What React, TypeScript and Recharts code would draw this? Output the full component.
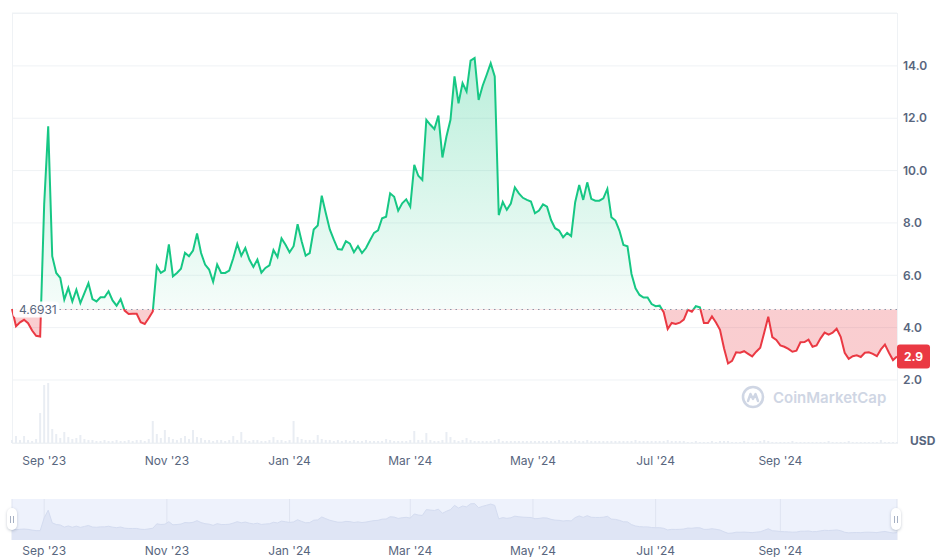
import { ComposedChart, AreaChart, Area, Bar, XAxis, YAxis, CartesianGrid, ReferenceLine } from 'recharts';

// day 0 of the series, one point every 2 days
const START = Date.UTC(2023, 7, 16);
const STEP_DAYS = 2;
const BASE_PRICE = 4.6931;

const prices = [
  4.71, 4.05, 4.2, 4.3, 4.17, 3.89, 3.69, 3.66, 8.71, 11.69, 6.73, 6.09, 5.9, 5.07, 5.52, 5.0, 5.45, 4.94, 5.32, 5.7,
  5.09, 5.0, 5.16, 5.16, 5.39, 5.04, 4.84, 5.09, 4.65, 4.52, 4.53, 4.53, 4.21, 4.14, 4.37, 4.62, 6.35, 6.09, 6.19, 7.18,
  5.96, 6.09, 6.25, 6.86, 6.73, 6.94, 7.6, 6.85, 6.41, 6.22, 5.75, 6.41, 6.09, 6.09, 6.18, 6.65, 7.2, 6.75, 7.04, 6.6,
  6.32, 6.6, 6.1, 6.28, 6.38, 6.96, 6.7, 7.41, 7.17, 6.88, 7.11, 7.95, 7.3, 6.75, 6.85, 7.75, 7.9, 9.04, 8.38, 7.75,
  7.36, 7.0, 6.98, 7.3, 7.21, 6.88, 7.11, 6.85, 7.04, 7.34, 7.62, 7.72, 8.18, 8.24, 9.13, 9.0, 8.47, 8.75, 8.9, 8.62,
  10.22, 9.8, 9.64, 11.94, 11.75, 11.59, 12.1, 10.5, 11.3, 11.94, 13.6, 12.57, 13.34, 13.02, 14.2, 14.3, 12.7, 13.24, 13.66, 14.1,
  13.6, 8.3, 8.8, 8.5, 8.74, 9.36, 9.13, 8.96, 8.88, 8.82, 8.37, 8.47, 8.71, 8.62, 8.11, 7.8, 7.71, 7.45, 7.62, 7.5,
  8.79, 9.45, 8.88, 9.55, 8.92, 8.85, 8.85, 8.94, 9.3, 8.22, 8.09, 7.71, 7.16, 7.11, 6.05, 5.5, 5.25, 5.15, 5.15, 4.9,
  4.82, 4.84, 4.59, 3.95, 4.18, 4.14, 4.19, 4.31, 4.68, 4.61, 4.82, 4.78, 4.18, 4.18, 4.43, 4.2, 3.92, 3.21, 2.63, 2.73,
  3.06, 3.04, 3.1, 3.0, 2.9, 3.08, 3.23, 3.81, 4.42, 3.64, 3.53, 3.32, 3.27, 3.19, 3.08, 3.12, 3.44, 3.45, 3.54, 3.27,
  3.32, 3.59, 3.81, 3.73, 3.81, 3.96, 3.65, 3.04, 2.81, 2.91, 2.94, 2.88, 3.04, 3.06, 3.0, 2.91, 3.17, 3.35, 3.04, 2.76,
  2.9,
];

// 24h volume, millions USD
const volumes = [
  3, 7, 3, 7, 3, 2, 4, 30, 58, 60, 14, 9, 5, 11, 6, 4, 5, 8, 4, 3,
  3, 2, 2, 3, 2, 2, 3, 2, 2, 3, 2, 3, 3, 2, 4, 22, 9, 5, 13, 6,
  4, 3, 5, 7, 4, 13, 6, 5, 3, 3, 2, 3, 3, 2, 3, 7, 3, 11, 3, 2,
  3, 3, 2, 2, 3, 6, 3, 3, 2, 3, 22, 6, 4, 3, 3, 3, 8, 4, 3, 3,
  2, 3, 2, 3, 2, 3, 2, 2, 3, 2, 2, 2, 2, 4, 3, 2, 2, 2, 2, 3,
  12, 3, 3, 10, 3, 2, 2, 3, 11, 6, 3, 2, 3, 5, 3, 2, 2, 2, 2, 2,
  3, 4, 2, 2, 2, 2, 2, 2, 2, 2, 2, 2, 2, 2, 2, 2, 3, 2, 2, 2,
  3, 2, 2, 3, 2, 2, 2, 2, 2, 2, 2, 2, 2, 2, 2, 3, 2, 2, 2, 2,
  2, 2, 2, 3, 2, 2, 2, 2, 1, 1, 2, 1, 1, 1, 2, 1, 2, 2, 2, 1,
  1, 1, 2, 1, 1, 1, 2, 3, 2, 1, 1, 1, 1, 1, 2, 1, 1, 1, 1, 1,
  1, 1, 1, 2, 1, 1, 1, 1, 2, 1, 1, 1, 1, 1, 1, 1, 3, 1, 1, 1,
  1,
];

const tickDates = ['2023-09-01', '2023-11-01', '2024-01-01', '2024-03-01', '2024-05-01', '2024-07-01', '2024-09-01'];
const tickLabels = ["Sep '23", "Nov '23", "Jan '24", "Mar '24", "May '24", "Jul '24", "Sep '24"];
const priceTicks = [2, 4, 6, 8, 10, 12, 14];

const DAY = 86400000;
const tickDays = tickDates.map((s) => Math.round((Date.parse(s) - START) / DAY));
const data = prices.map((p, i) => ({ d: i * STEP_DAYS, price: p, vol: volumes[i] }));
const lastPrice = prices[prices.length - 1];

const W = 936;
const PLOT_L = 12;
const PLOT_R = 897;
const PLOT_T = 13;
const PLOT_B = 443;
const Y_MIN = -0.407;
const Y_MAX = 16.02;
const X_MAX = 440;

const baseOff = (Y_MAX - BASE_PRICE) / (Y_MAX - Y_MIN);

const GREEN = '#16c784';
const RED = '#ea3943';
const TEXT = '#58667e';
const FONT = 'Inter, "Noto Sans", sans-serif';

const tickLabel = (d: number) => tickLabels[tickDays.indexOf(d)] ?? '';

const BaseLabel = ({ viewBox }: any) => {
  const { x, y } = viewBox;
  return (
    <g>
      <rect x={x + 1} y={y - 8} width={46} height={16} rx={4} fill="#fff" fillOpacity={0.92} />
      <text x={x + 7} y={y + 4.5} fontSize={12} fill={TEXT} fontFamily={FONT}>
        {BASE_PRICE}
      </text>
    </g>
  );
};

const LastLabel = ({ viewBox }: any) => {
  const x = viewBox.x + viewBox.width;
  const y = viewBox.y;
  return (
    <g>
      <rect x={x} y={y - 12} width={33} height={24} rx={3} fill={RED} />
      <text x={x + 16.5} y={y + 4.5} textAnchor="middle" fontSize={12} fontWeight={700} fill="#fff" fontFamily={FONT}>
        {lastPrice.toFixed(1)}
      </text>
    </g>
  );
};

const Handle = ({ left }: { left: number }) => (
  <div
    style={{
      position: 'absolute', left: left - 5, top: 508, width: 10, height: 22, background: '#fff',
      borderRadius: 5, boxShadow: '0 1px 3px rgba(88,102,126,0.35)', display: 'flex',
      alignItems: 'center', justifyContent: 'center', gap: 2,
    }}
  >
    <div style={{ width: 1, height: 7, background: '#a6b0c3' }} />
    <div style={{ width: 1, height: 7, background: '#a6b0c3' }} />
  </div>
);

export default function App() {
  return (
    <div style={{ position: 'absolute', left: 0, top: 0, width: W, height: 557, background: '#fff', fontFamily: FONT, overflow: 'hidden' }}>
      <div
        style={{
          position: 'absolute', left: PLOT_L, top: PLOT_T, width: PLOT_R - PLOT_L + 1, height: PLOT_B - PLOT_T + 1,
          border: '1px solid #eff2f5', boxSizing: 'border-box',
        }}
      />
      <div style={{ position: 'absolute', left: 0, top: 0 }}>
        <ComposedChart width={W} height={480} data={data} margin={{ top: PLOT_T, right: 0, bottom: 7, left: PLOT_L }}>
          <defs>
            <linearGradient id="priceStroke" gradientUnits="userSpaceOnUse" x1="0" y1={PLOT_T} x2="0" y2={PLOT_B}>
              <stop offset={baseOff} stopColor={GREEN} />
              <stop offset={baseOff} stopColor={RED} />
            </linearGradient>
            <linearGradient id="priceFill" gradientUnits="userSpaceOnUse" x1="0" y1={PLOT_T} x2="0" y2={PLOT_B}>
              <stop offset={0} stopColor={GREEN} stopOpacity={0.34} />
              <stop offset={baseOff} stopColor={GREEN} stopOpacity={0.04} />
              <stop offset={baseOff} stopColor={RED} stopOpacity={0.25} />
              <stop offset={1} stopColor={RED} stopOpacity={0.25} />
            </linearGradient>
          </defs>
          <CartesianGrid vertical={false} stroke="#eff2f5" yAxisId="p" />
          <XAxis
            dataKey="d"
            type="number"
            domain={[0, X_MAX]}
            ticks={tickDays}
            tickFormatter={tickLabel}
            axisLine={false}
            tickLine={false}
            tickSize={0}
            tickMargin={13}
            height={30}
            tick={{ fill: TEXT, fontSize: 12, fontFamily: FONT }}
          />
          <YAxis
            yAxisId="p"
            orientation="right"
            width={39}
            domain={[Y_MIN, Y_MAX]}
            ticks={priceTicks}
            tickFormatter={(v: number) => v.toFixed(1)}
            axisLine={false}
            tickLine={false}
            tickSize={0}
            tickMargin={6}
            tick={{ fill: TEXT, fontSize: 12, fontWeight: 600, fontFamily: FONT, textAnchor: 'start' }}
          />
          <YAxis yAxisId="v" hide domain={[0, 430]} />
          <Bar yAxisId="v" dataKey="vol" fill="#e9edf3" barSize={2} isAnimationActive={false} />
          <Area
            yAxisId="p"
            type="linear"
            dataKey="price"
            baseValue={BASE_PRICE}
            stroke="url(#priceStroke)"
            strokeWidth={2}
            fill="url(#priceFill)"
            fillOpacity={1}
            dot={false}
            activeDot={false}
            isAnimationActive={false}
          />
          <ReferenceLine
            yAxisId="p"
            y={BASE_PRICE}
            stroke="#8d96a8"
            strokeDasharray="1.5 4"
            label={<BaseLabel />}
          />
          <ReferenceLine yAxisId="p" y={lastPrice} stroke="none" strokeOpacity={0} label={<LastLabel />} />
        </ComposedChart>
      </div>

      <svg style={{ position: 'absolute', left: 740, top: 383 }} width={160} height={28}>
        <circle cx={13} cy={14} r={10} fill="none" stroke="#cfd6e4" strokeWidth={2.6} />
        <path d="M8 18 L10.5 11 L13 16 L15.5 11 L18 18" fill="none" stroke="#cfd6e4" strokeWidth={2.4} strokeLinejoin="round" strokeLinecap="round" />
        <text x={33} y={20} fontSize={15} fontWeight={600} fill="#cfd6e4" fontFamily={FONT}>
          CoinMarketCap
        </text>
      </svg>

      <div style={{ position: 'absolute', left: 910, top: 433, fontSize: 12, fontWeight: 700, color: TEXT }}>USD</div>

      <div
        style={{
          position: 'absolute', left: PLOT_L, top: 499, width: PLOT_R - PLOT_L, height: 41,
          background: '#eef2fc',
        }}
      />
      <div style={{ position: 'absolute', left: 0, top: 490 }}>
        <AreaChart width={W} height={80} data={data} margin={{ top: 9, right: W - PLOT_R, bottom: 13, left: PLOT_L }}>
          <CartesianGrid horizontal={false} stroke="#dfe4f1" />
          <XAxis
            dataKey="d"
            type="number"
            domain={[0, X_MAX]}
            ticks={tickDays}
            tickFormatter={tickLabel}
            axisLine={false}
            tickLine={false}
            tickSize={0}
            tickMargin={6}
            height={17}
            tick={{ fill: TEXT, fontSize: 12, fontFamily: FONT }}
          />
          <YAxis hide domain={[0, 16.1]} />
          <Area
            type="linear"
            dataKey="price"
            stroke="#d4dcf0"
            strokeWidth={1}
            fill="#dfe5f5"
            fillOpacity={1}
            dot={false}
            activeDot={false}
            isAnimationActive={false}
          />
        </AreaChart>
      </div>
      <Handle left={PLOT_L} />
      <Handle left={PLOT_R - 1} />
    </div>
  );
}
